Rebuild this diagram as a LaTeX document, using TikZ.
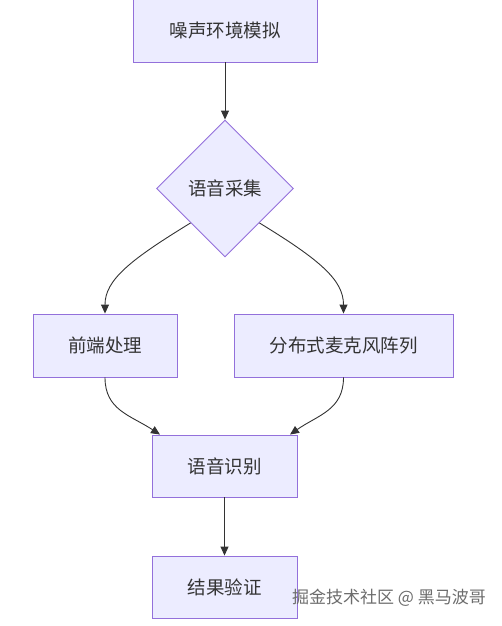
\documentclass[tikz,border=0pt]{standalone}
\usepackage{fontspec}
\setmainfont{Noto Sans CJK SC}
\usetikzlibrary{shapes.geometric,arrows.meta}
\definecolor{boxfill}{HTML}{ECECFF}
\definecolor{boxline}{HTML}{9370DB}
\definecolor{ink}{HTML}{333333}
\begin{document}
\begin{tikzpicture}[x=1pt,y=-1pt,
  every node/.style={font=\fontsize{18.5}{22}\selectfont, text=ink},
  stepbox/.style={draw=boxline, fill=boxfill, line width=0.9pt, inner sep=0pt, rectangle},
  decide/.style={draw=boxline, fill=boxfill, line width=0.9pt, diamond, inner sep=0pt, minimum width=137pt, minimum height=137pt},
  link/.style={draw=ink, line width=0.9pt, -{Triangle[length=9pt,width=8pt]}}]
\useasboundingbox (0,0) rectangle (502,626);
\node[stepbox, minimum width=184pt, minimum height=64pt] (env) at (225,30) {噪声环境模拟};
\node[decide] (cap) at (225,188.5) {语音采集};
\node[stepbox, minimum width=144pt, minimum height=63pt] (front) at (105,345.5) {前端处理};
\node[stepbox, minimum width=219pt, minimum height=63pt] (mic) at (343.5,345.5) {分布式麦克风阵列};
\node[stepbox, minimum width=145pt, minimum height=62pt] (asr) at (224.5,466) {语音识别};
\node[stepbox, minimum width=145pt, minimum height=62pt] (ver) at (224.5,587) {结果验证};
\node[font=\fontsize{17}{20}\selectfont, text=gray!85!black, anchor=west, inner sep=0pt] (wm) at (292,598) {掘金技术社区 @ 黑马波哥};
\draw[link] (env.south) -- (cap.north);
\draw[link] (cap.south west) .. controls (130,260) and (105,280) .. (front.north);
\draw[link] (cap.south east) .. controls (320,260) and (343.5,280) .. (mic.north);
\draw[link] (front.south) .. controls (105,410) and (130,415) .. (asr.north west -| 160,435);
\draw[link] (mic.south) .. controls (343.5,410) and (318,415) .. (asr.north east -| 290,435);
\draw[link] (asr.south) -- (ver.north);
\end{tikzpicture}
\end{document}
